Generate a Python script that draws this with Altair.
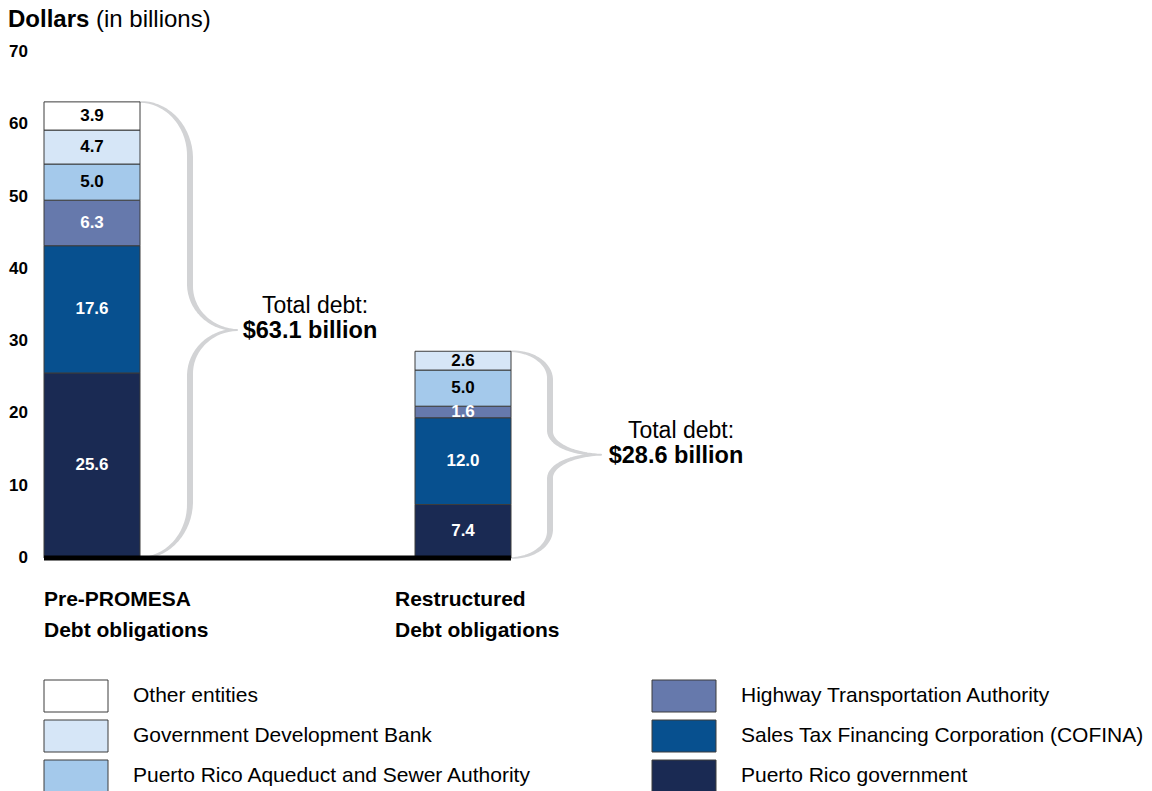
import altair as alt
import numpy as np
import pandas as pd

# ---------------- data ----------------
categories = ["Pre-PROMESA", "Restructured"]
category_line2 = ["Debt obligations", "Debt obligations"]
# stacked bottom -> top
entities = [
    "Puerto Rico government",
    "Sales Tax Financing Corporation (COFINA)",
    "Highway Transportation Authority",
    "Puerto Rico Aqueduct and Sewer Authority",
    "Government Development Bank",
    "Other entities",
]
pre_promesa_values = [25.6, 17.6, 6.3, 5.0, 4.7, 3.9]
restructured_values = [7.4, 12.0, 1.6, 5.0, 2.6, None]
total_values = [63.1, 28.6]
total_labels = ["$63.1 billion", "$28.6 billion"]
y_ticks = [0, 10, 20, 30, 40, 50, 60, 70]

# legend: column-major (left column top->bottom, then right column)
legend_order = [
    "Other entities",
    "Government Development Bank",
    "Puerto Rico Aqueduct and Sewer Authority",
    "Highway Transportation Authority",
    "Sales Tax Financing Corporation (COFINA)",
    "Puerto Rico government",
]

# ---------------- style / layout ----------------
colors = {
    "Other entities": "#ffffff",
    "Highway Transportation Authority": "#6679ac",
    "Government Development Bank": "#d6e6f7",
    "Sales Tax Financing Corporation (COFINA)": "#07508f",
    "Puerto Rico Aqueduct and Sewer Authority": "#a4c9eb",
    "Puerto Rico government": "#1a2a53",
}
dark_entities = [
    "Highway Transportation Authority",
    "Sales Tax Financing Corporation (COFINA)",
    "Puerto Rico government",
]
FONT = "Liberation Sans"
PLOT_W = 760
PLOT_H = 506
Y_MAX = 70
BAR_PX = 96
bar_left_px = [0, 371]
label_left_px = [0, 351]
brace_w_px = [97, 90]
brace_arm_px = [50, 39]
text_off_px = [170, 165]
X_UNITS = PLOT_W / BAR_PX
PPU = PLOT_H / Y_MAX
LEG_W = 1000
LEG_H = 112

bar_left = [p / BAR_PX for p in bar_left_px]

# ---------------- tables ----------------
rows = []
for ci, (cat, vals) in enumerate(zip(categories, [pre_promesa_values, restructured_values])):
    for k, (ent, v) in enumerate(zip(entities, vals)):
        if v is None:
            continue
        rows.append({
            "category": cat, "entity": ent, "value": v, "k": k,
            "x0": bar_left[ci], "x1": bar_left[ci] + 1, "xc": bar_left[ci] + 0.5,
            "tcol": "#ffffff" if ent in dark_entities else "#000000",
        })
bars_df = pd.DataFrame(rows)
bars_df["y1"] = bars_df.groupby("category")["value"].cumsum()
bars_df["y0"] = bars_df["y1"] - bars_df["value"]
bars_df["mid"] = (bars_df["y0"] + bars_df["y1"]) / 2
bars_df["txt"] = bars_df["value"].map(lambda v: f"{v:.1f}")


def brace_points(bid, top, w, a, n=18):
    h_px = top * PPU
    r1 = (0.11 * h_px + 5) / PPU
    r2 = (0.085 * h_px + 6) / PPU
    mid = top / 2
    pts = []
    t = np.linspace(0, np.pi / 2, n)
    for i, tt in enumerate(t):
        pts.append((a * np.sin(tt), top - r1 * (1 - np.cos(tt)), 1.5 + 4.5 * i / (n - 1)))
    for i, tt in enumerate(t):
        pts.append((w - (w - a) * np.cos(tt), mid + r2 * (1 - np.sin(tt)), 6.0 - 4.0 * i / (n - 1)))
    upper = list(pts)
    lower = [(u, top - y, s) for (u, y, s) in reversed(upper[:-1])]
    out = []
    for j, (u, y, s) in enumerate(upper + lower):
        out.append({"brace": bid, "idx": j,
                    "x": bar_left[bid] + 1 + u / BAR_PX, "y": y, "s": s})
    return out


brace_rows = []
for b in range(2):
    brace_rows += brace_points(b, total_values[b], brace_w_px[b], brace_arm_px[b])
brace_df = pd.DataFrame(brace_rows)

totals_df = pd.DataFrame({
    "x": [bar_left[i] + 1 + text_off_px[i] / BAR_PX for i in range(2)],
    "mid": [v / 2 for v in total_values],
    "label": total_labels,
    "head": ["Total debt:", "Total debt:"],
})

cat_df = pd.DataFrame({
    "x": [p / BAR_PX for p in label_left_px],
    "zero": [0, 0],
    "line1": categories,
    "line2": category_line2,
})

base_df = pd.DataFrame({"x0": [bar_left[0]], "x1": [bar_left[1] + 1], "y": [0]})

ticks_df = pd.DataFrame({"tick": y_ticks, "lab": [str(t) for t in y_ticks]})

legend_df = pd.DataFrame({
    "entity": legend_order,
    "col": [i // 3 for i in range(len(legend_order))],
    "row": [i % 3 for i in range(len(legend_order))],
})

xs = alt.Scale(domain=[0, X_UNITS])
ys = alt.Scale(domain=[0, Y_MAX], nice=False)
color_scale = alt.Scale(domain=legend_order, range=[colors[e] for e in legend_order])

bars = alt.Chart(bars_df).mark_bar(stroke="#3c3c3c", strokeWidth=1).encode(
    x=alt.X("x0:Q", scale=xs, axis=None),
    x2="x1:Q",
    y=alt.Y("y0:Q", scale=ys, axis=None),
    y2="y1:Q",
    color=alt.Color("entity:N", scale=color_scale, legend=None),
)

seg_labels = alt.Chart(bars_df).mark_text(
    font=FONT, fontSize=17, fontWeight="bold", baseline="middle"
).encode(
    x=alt.X("xc:Q", scale=xs, axis=None),
    y=alt.Y("mid:Q", scale=ys, axis=None),
    text="txt:N",
    color=alt.Color("tcol:N", scale=None, legend=None),
)

baseline = alt.Chart(base_df).mark_rule(color="#000", strokeWidth=5).encode(
    x=alt.X("x0:Q", scale=xs, axis=None), x2="x1:Q",
    y=alt.Y("y:Q", scale=ys, axis=None)
)

braces = alt.Chart(brace_df).mark_trail(color="#d2d3d5").encode(
    x=alt.X("x:Q", scale=xs, axis=None),
    y=alt.Y("y:Q", scale=ys, axis=None),
    size=alt.Size("s:Q", scale=None, legend=None),
    detail="brace:N",
    order="idx:Q",
)

y_labels = alt.Chart(ticks_df).mark_text(
    font=FONT, fontSize=17, fontWeight="bold", color="#000", align="right",
    baseline="middle"
).encode(x=alt.value(-16), y=alt.Y("tick:Q", scale=ys, axis=None), text="lab:N")

tot_head = alt.Chart(totals_df).mark_text(
    font=FONT, fontSize=23, color="#000", align="center", baseline="alphabetic",
    dy=-17, dx=5
).encode(x=alt.X("x:Q", scale=xs, axis=None), y=alt.Y("mid:Q", scale=ys, axis=None),
         text="head:N")

tot_val = alt.Chart(totals_df).mark_text(
    font=FONT, fontSize=23.5, fontWeight="bold", color="#000", align="center",
    baseline="alphabetic", dy=8
).encode(x=alt.X("x:Q", scale=xs, axis=None), y=alt.Y("mid:Q", scale=ys, axis=None),
         text="label:N")

cat1 = alt.Chart(cat_df).mark_text(
    font=FONT, fontSize=21, fontWeight="bold", color="#000", align="left",
    baseline="alphabetic", dy=48
).encode(x=alt.X("x:Q", scale=xs, axis=None), y=alt.Y("zero:Q", scale=ys, axis=None),
         text="line1:N")

cat2 = alt.Chart(cat_df).mark_text(
    font=FONT, fontSize=21, fontWeight="bold", color="#000", align="left",
    baseline="alphabetic", dy=79
).encode(x=alt.X("x:Q", scale=xs, axis=None), y=alt.Y("zero:Q", scale=ys, axis=None),
         text="line2:N")

title_df = pd.DataFrame({"a": ["Dollars"], "b": ["(in billions)"]})
title_a = alt.Chart(title_df).mark_text(
    font=FONT, fontSize=24, fontWeight="bold", color="#000", align="left", baseline="top"
).encode(x=alt.value(-36), y=alt.value(-44), text="a:N")
title_b = alt.Chart(title_df).mark_text(
    font=FONT, fontSize=24, color="#000", align="left", baseline="top"
).encode(x=alt.value(52), y=alt.value(-44), text="b:N")

main = alt.layer(
    braces, bars, baseline, seg_labels, y_labels, tot_head, tot_val, cat1, cat2,
    title_a, title_b
).properties(width=PLOT_W, height=PLOT_H)

# ---------------- legend panel ----------------
lx = alt.Scale(type="point", domain=[0, 1], range=[32, 640], padding=0)
ly = alt.Scale(type="point", domain=[0, 1, 2], range=[16, 96], padding=0)

leg_sym = alt.Chart(legend_df).mark_point(
    shape="M-1,-0.5H1V0.5H-1Z", size=4096, filled=True, opacity=1,
    stroke="#3c3c3c", strokeWidth=1
).encode(
    x=alt.X("col:O", scale=lx, axis=None),
    y=alt.Y("row:O", scale=ly, axis=None),
    fill=alt.Fill("entity:N", scale=color_scale, legend=None),
)
leg_txt = alt.Chart(legend_df).mark_text(
    font=FONT, fontSize=21, color="#000", align="left", baseline="middle", dx=57
).encode(
    x=alt.X("col:O", scale=lx, axis=None),
    y=alt.Y("row:O", scale=ly, axis=None),
    text="entity:N",
)
legend = alt.layer(leg_sym, leg_txt).properties(width=LEG_W, height=LEG_H)

chart = alt.vconcat(main, legend, spacing=37).properties(
    padding=0, background="#ffffff"
).configure_view(strokeWidth=0)

chart.save("out.html", embed_options={"renderer": "svg", "actions": False})
